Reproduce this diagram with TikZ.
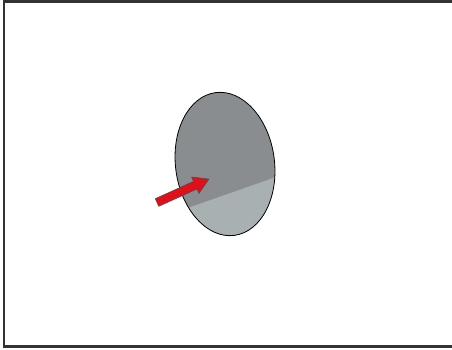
\documentclass[tikz,border=0pt]{standalone}
\begin{document}
\begin{tikzpicture}[x=1pt,y=1pt,
  frame/.style={draw=black!80, line width=2.8pt},
  discedge/.style={draw=black, line width=0.8pt},
  redarrow/.style={fill=arrowred, draw=black!70, line width=0.5pt, line join=miter}]
\useasboundingbox (0,0) rectangle (452,350);
\definecolor{darkdisc}{HTML}{8A8D8F}
\definecolor{lightdisc}{HTML}{A9B0B1}
\definecolor{arrowred}{HTML}{E0101A}
% frame (open on the right, beyond the picture)
\draw[frame] (470,348.6) -- (4,348.6) -- (4,3.6) -- (470,3.6);
% disc
\coordinate (c) at (225,186);
\begin{scope}
  \clip (c) ellipse [x radius=49.5, y radius=72, rotate=7.5];
  \fill[darkdisc] (150,100) rectangle (300,270);
  \fill[lightdisc] (150,128.7) -- (300,181.4) -- (300,100) -- (150,100) -- cycle;
\end{scope}
\draw[discedge] (c) ellipse [x radius=49.5, y radius=72, rotate=7.5];
% arrow
\begin{scope}[shift={(157,147.5)}, rotate=24.3]
  \draw[redarrow] (0,-4.2) -- (42,-4.2) -- (42,-9) -- (57,0) -- (42,9) -- (42,4.2) -- (0,4.2) -- cycle;
\end{scope}
\end{tikzpicture}
\end{document}
